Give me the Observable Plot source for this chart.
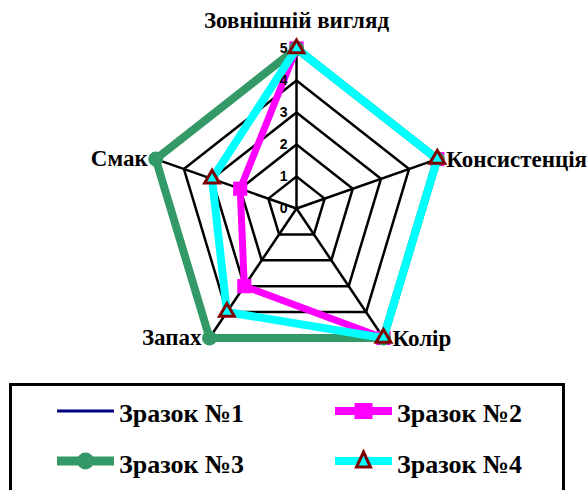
<!DOCTYPE html>
<html>
<head>
<meta charset="utf-8">
<script src="https://cdn.jsdelivr.net/npm/d3@7"></script>
<script src="https://cdn.jsdelivr.net/npm/@observablehq/plot@0.6"></script>
<style>
  html, body { margin: 0; padding: 0; background: #fff; overflow: hidden; width: 588px; height: 490px; }
  #chart svg { display: block; }
</style>
</head>
<body>
<div id="chart"></div>
<script>
// ---- data ----
const categories = ["Зовнішній вигляд", "Консистенція", "Колір", "Запах", "Смак"];
const seriesNames = ["Зразок №1", "Зразок №2", "Зразок №3", "Зразок №4"];
const sample1 = [5, 5, 5, 4, 3];
const sample2 = [5, 5, 5, 3, 2];
const sample3 = [5, 5, 5, 5, 5];
const sample4 = [5, 5, 5, 4, 3];
const tickLevels = [0, 1, 2, 3, 4, 5];
const gridLevels = [1, 2, 3, 4, 5];
const maxValue = 5;

// ---- derived tables ----
const n = categories.length;
const ang = i => 2 * Math.PI * i / n;
const catRows = categories.map((name, i) => ({name, i, sx: Math.sin(ang(i)), sy: Math.cos(ang(i))}));
const gridRows = gridLevels.flatMap(level => categories.map((c, i) => ({level, i, x: level * Math.sin(ang(i)), y: level * Math.cos(ang(i))})));
const allSeries = [sample1, sample2, sample3, sample4];
const rows = allSeries.flatMap((vals, s) => vals.map((v, i) => ({series: seriesNames[s], i, value: v, x: v * Math.sin(ang(i)), y: v * Math.cos(ang(i))})));
const bySeries = s => rows.filter(d => d.series === seriesNames[s]);

const cx = 296, cy = 208, rx = 148, ry = 160;
const serif = "Liberation Serif, Times New Roman, serif";
const sans = "Liberation Sans, Arial, sans-serif";

const chart = Plot.plot({
  width: 588,
  height: 380,
  margin: 0,
  x: {domain: [-maxValue, maxValue], range: [cx - rx, cx + rx], axis: null},
  y: {domain: [-maxValue, maxValue], range: [cy + ry, cy - ry], axis: null},
  marks: [
    Plot.line(gridRows, {x: "x", y: "y", z: "level", curve: "linear-closed", stroke: "#000", strokeWidth: 2.5}),
    Plot.link(catRows, {x1: d => 0, y1: d => 0, x2: d => maxValue * d.sx, y2: d => maxValue * d.sy, stroke: "#000", strokeWidth: 2.5}),
    // Зразок №1
    Plot.line(bySeries(0), {x: "x", y: "y", curve: "linear-closed", stroke: "#000080", strokeWidth: 2}),
    // Зразок №2
    Plot.line(bySeries(1), {x: "x", y: "y", curve: "linear-closed", stroke: "#ff00ff", strokeWidth: 7, strokeLinejoin: "round"}),
    Plot.dot(bySeries(1), {x: "x", y: "y", symbol: "square", r: 8, fill: "#ff00ff", stroke: "none"}),
    // Зразок №3
    Plot.line(bySeries(2), {x: "x", y: "y", curve: "linear-closed", stroke: "#339966", strokeWidth: 8, strokeLinejoin: "round"}),
    Plot.dot(bySeries(2), {x: "x", y: "y", symbol: "circle", r: 7.5, fill: "#339966", stroke: "none"}),
    // Зразок №4
    Plot.line(bySeries(3), {x: "x", y: "y", curve: "linear-closed", stroke: "#00ffff", strokeWidth: 8, strokeLinejoin: "round"}),
    Plot.dot(bySeries(3), {x: "x", y: "y", symbol: "triangle", r: 5.5, fill: "#00ffff", stroke: "#800000", strokeWidth: 3}),
    // tick labels
    Plot.text(tickLevels, {x: d => 0, y: d => d, text: d => String(d), dx: -9, textAnchor: "end", fontSize: 14, fontWeight: "bold", fontFamily: sans, fill: "#000"}),
    // category labels
    Plot.text(catRows.filter(d => Math.abs(d.sx) < 0.1), {x: d => maxValue * d.sx, y: d => maxValue * d.sy, text: "name", dy: -28, fontSize: 23, fontWeight: "bold", fontFamily: serif, fill: "#000"}),
    Plot.text(catRows.filter(d => d.sx >= 0.1), {x: d => maxValue * d.sx, y: d => maxValue * d.sy, text: "name", dx: 9, dy: 1, textAnchor: "start", fontSize: 23, fontWeight: "bold", fontFamily: serif, fill: "#000"}),
    Plot.text(catRows.filter(d => d.sx <= -0.1), {x: d => maxValue * d.sx, y: d => maxValue * d.sy, text: "name", dx: -8, dy: 0, textAnchor: "end", fontSize: 23, fontWeight: "bold", fontFamily: serif, fill: "#000"})
  ]
});
document.getElementById("chart").appendChild(chart);

// ---- legend (below the chart) ----
const leg = d3.select("#chart").append("svg").attr("width", 588).attr("height", 110);
leg.append("rect").attr("x", 10.5).attr("y", 4.5).attr("width", 553).attr("height", 200)
  .attr("fill", "none").attr("stroke", "#000").attr("stroke-width", 3);
const items = [
  {name: seriesNames[0], col: 0, row: 0, color: "#000080", w: 3, marker: null},
  {name: seriesNames[1], col: 1, row: 0, color: "#ff00ff", w: 8, marker: "square"},
  {name: seriesNames[2], col: 0, row: 1, color: "#339966", w: 9, marker: "circle"},
  {name: seriesNames[3], col: 1, row: 1, color: "#00ffff", w: 8, marker: "triangle"}
];
const colX = [57, 335], rowY = [31, 81];
for (const it of items) {
  const x0 = colX[it.col], y0 = rowY[it.row];
  const g = leg.append("g");
  g.append("line").attr("x1", x0).attr("x2", x0 + 57).attr("y1", y0).attr("y2", y0)
    .attr("stroke", it.color).attr("stroke-width", it.w);
  const mx = x0 + 28.5;
  if (it.marker === "square") {
    g.append("rect").attr("x", mx - 9).attr("y", y0 - 8).attr("width", 18).attr("height", 16).attr("fill", it.color);
  } else if (it.marker === "circle") {
    g.append("circle").attr("cx", mx).attr("cy", y0).attr("r", 8.5).attr("fill", it.color);
  } else if (it.marker === "triangle") {
    g.append("path").attr("d", `M${mx},${y0 - 9}L${mx + 7},${y0 + 6}L${mx - 7},${y0 + 6}Z`)
      .attr("fill", it.color).attr("stroke", "#800000").attr("stroke-width", 3);
  }
  g.append("text").attr("x", x0 + 62).attr("y", y0 + (it.row === 0 ? 10.7 : 12))
    .attr("font-family", serif).attr("font-weight", "bold").attr("font-size", 26)
    .attr("fill", "#000").text(it.name);
}
</script>
</body>
</html>
